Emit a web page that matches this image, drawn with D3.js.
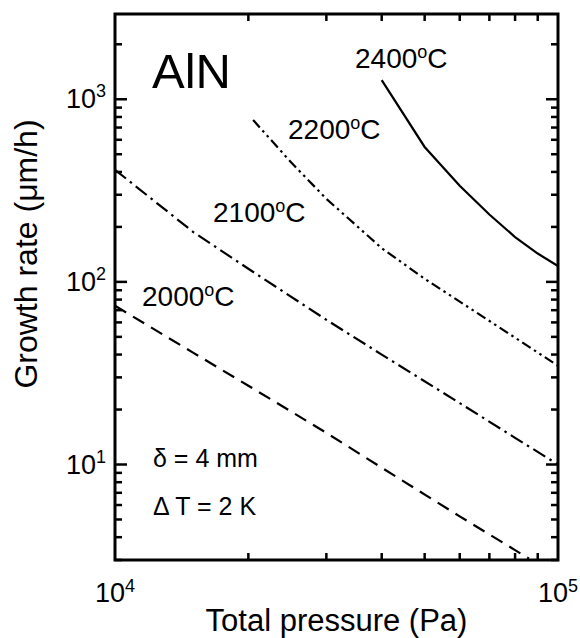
<!DOCTYPE html>
<html>
<head>
<meta charset="utf-8">
<script src="https://cdn.jsdelivr.net/npm/d3@7"></script>
<style>
  body { margin: 0; background: #fff; }
  text { font-family: "Liberation Sans", Arial, Helvetica, sans-serif; fill: #000; }
</style>
</head>
<body>
<svg id="chart"></svg>
<script>
// values (pressure in Pa, growth rate in um/h)
const pressure2400 = [40000, 50000, 60000, 70000, 80000, 90000, 100000];
const rate2400 = [1274, 548, 336, 234, 176, 143, 122];

const pressure2200 = [20500, 25000, 30000, 40000, 50000, 60000, 80000, 100000];
const rate2200 = [770, 450, 285, 153, 104, 78, 49.5, 34.7];

const pressure2100 = [10000, 15000, 20000, 30000, 40000, 60000, 80000, 100000];
const rate2100 = [411, 188, 118, 62, 40, 21.7, 14, 10];

const pressure2000 = [10000, 15000, 20000, 30000, 40000, 60000, 80000, 86000];
const rate2000 = [74, 41, 27, 14.9, 9.6, 5.2, 3.4, 3.05];

const seriesNames = ['2000', '2100', '2200', '2400'];
const xTickExps = [4, 5];
const yTickExps = [1, 2, 3];

const width = 580, height = 638;
const margin = {top: 14, right: 22, bottom: 78, left: 115};

const svg = d3.select('#chart')
      .attr('width', width)
      .attr('height', height);

const x = d3.scaleLog()
      .domain([1e4, 1e5])
      .range([margin.left, width - margin.right]);

const y = d3.scaleLog()
      .domain([3, 2930])
      .range([height - margin.bottom, margin.top]);

const plotL = x.range()[0], plotR = x.range()[1];
const plotB = y.range()[0], plotT = y.range()[1];

// curves
const series = [
      {name: seriesNames[0], p: pressure2000, r: rate2000, dash: '13,8'},
      {name: seriesNames[1], p: pressure2100, r: rate2100, dash: '14,5,2.5,5'},
      {name: seriesNames[2], p: pressure2200, r: rate2200, dash: '10,4,2.5,4,2.5,4'},
      {name: seriesNames[3], p: pressure2400, r: rate2400, dash: null}
];

svg.append('clipPath').attr('id', 'plot-clip')
      .append('rect')
      .attr('x', plotL).attr('y', plotT)
      .attr('width', plotR - plotL).attr('height', plotB - plotT);

const line = d3.line()
      .x(d => x(d[0]))
      .y(d => y(d[1]));

svg.append('g')
      .attr('clip-path', 'url(#plot-clip)')
      .selectAll('path')
      .data(series)
      .join('path')
      .attr('d', s => line(d3.zip(s.p, s.r)))
      .attr('fill', 'none')
      .attr('stroke', '#000')
      .attr('stroke-width', 2.2)
      .attr('stroke-dasharray', s => s.dash);

// frame
svg.append('rect')
      .attr('x', plotL).attr('y', plotT)
      .attr('width', plotR - plotL).attr('height', plotB - plotT)
      .attr('fill', 'none')
      .attr('stroke', '#000')
      .attr('stroke-width', 3);

// minor / major tick values
const xMinor = d3.range(2, 10).map(d => d * 1e4);
const yMajor = yTickExps.map(e => Math.pow(10, e));
const yMinor = [];
[1, 10, 100, 1000].forEach(dec => {
      d3.range(2, 10).forEach(m => {
            const v = m * dec;
            if (v >= y.domain()[0] && v <= y.domain()[1]) yMinor.push(v);
      });
});

const majorLen = 12, minorLen = 7, tickW = 2.5;

// ticks pointing inward on all four sides, drawn as thin filled bars
const xTicks = [];
xMinor.forEach(v => {
      xTicks.push({cx: x(v), y: plotB - minorLen});
      xTicks.push({cx: x(v), y: plotT});
});
const yTicks = [];
yMinor.map(v => [v, minorLen]).concat(yMajor.map(v => [v, majorLen])).forEach(d => {
      yTicks.push({cy: y(d[0]), x: plotL, len: d[1]});
      yTicks.push({cy: y(d[0]), x: plotR - d[1], len: d[1]});
});

svg.append('g').selectAll('rect')
      .data(xTicks)
      .join('rect')
      .attr('x', d => d.cx - tickW / 2)
      .attr('y', d => d.y)
      .attr('width', tickW)
      .attr('height', minorLen)
      .attr('fill', '#000');

svg.append('g').selectAll('rect')
      .data(yTicks)
      .join('rect')
      .attr('x', d => d.x)
      .attr('y', d => d.cy - tickW / 2)
      .attr('width', d => d.len)
      .attr('height', tickW)
      .attr('fill', '#000');

// tick labels with superscripts
xTickExps.forEach(e => {
      const t = svg.append('text')
            .attr('x', x(Math.pow(10, e)))
            .attr('y', plotB + 42)
            .attr('text-anchor', 'middle')
            .style('font-size', '27px')
            .text('10');
      t.append('tspan').attr('dy', -10).style('font-size', '18px').text(e);
});

yTickExps.forEach(e => {
      const t = svg.append('text')
            .attr('x', plotL - 9)
            .attr('y', y(Math.pow(10, e)) + 9)
            .attr('text-anchor', 'end')
            .style('font-size', '27px')
            .text('10');
      t.append('tspan').attr('dy', -11).style('font-size', '18px').text(e);
});

// axis titles
svg.append('text')
      .attr('x', (plotL + plotR) / 2)
      .attr('y', 631)
      .attr('text-anchor', 'middle')
      .style('font-size', '31px')
      .text('Total pressure (Pa)');

svg.append('text')
      .attr('transform', 'translate(37,254) rotate(-90)')
      .attr('text-anchor', 'middle')
      .style('font-size', '32px')
      .text('Growth rate (\u03bcm/h)');

// curve labels
const labelPos = {'2000': [142, 306], '2100': [213, 222], '2200': [288, 139], '2400': [355, 68]};
series.forEach(s => {
      const t = svg.append('text')
            .attr('x', labelPos[s.name][0])
            .attr('y', labelPos[s.name][1])
            .style('font-size', '28px')
            .text(s.name);
      t.append('tspan').attr('dy', -10).style('font-size', '18px').text('o');
      t.append('tspan').attr('dy', 10).text('C');
});

svg.append('text')
      .attr('x', 152).attr('y', 88)
      .style('font-size', '49px')
      .text('AlN');

svg.append('text')
      .attr('x', 153).attr('y', 467)
      .style('font-size', '25px')
      .text('\u03b4 = 4 mm');

svg.append('text')
      .attr('x', 153).attr('y', 515)
      .style('font-size', '25px')
      .text('\u0394 T = 2 K');
</script>
</body>
</html>
